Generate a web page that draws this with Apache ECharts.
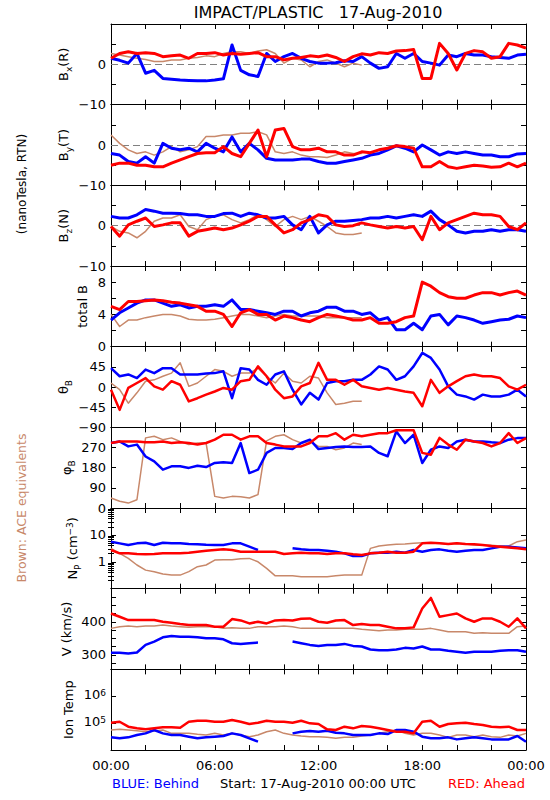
<!DOCTYPE html>
<html>
<head>
<meta charset="utf-8">
<script src="https://cdn.jsdelivr.net/npm/echarts@6.0.0/dist/echarts.min.js"></script>
<style>
html,body{margin:0;padding:0;background:#ffffff;}
#chart{width:550px;height:800px;}
</style>
</head>
<body>
<div id="chart"></div>
<script>
// ================= DATA (30-min samples) =================
const hours = [0,0.5,1,1.5,2,2.5,3,3.5,4,4.5,5,5.5,6,6.5,7,7.5,8,8.5,9,9.5,10,10.5,11,11.5,12,12.5,13,13.5,14,14.5,15,15.5,16,16.5,17,17.5,18,18.5,19,19.5,20,20.5,21,21.5,22,22.5,23,23.5,24];
const timeTickValues = [0,6,12,18,24];
const timeTickLabels = ['00:00','06:00','12:00','18:00','00:00'];

// Bx (R), nT
const bxBehind = [1.5,1,0.3,2.7,-2.2,-1.5,-3.5,-3.7,-3.9,-4,-4.1,-4.1,-3.9,-3.6,4.8,-1.5,-2.6,-3,2.7,0.7,1.9,2.7,1.5,0.7,0.3,0.3,0.4,0.9,0.7,1.9,0.3,-1,-0.6,2.7,1.5,2.7,0.7,0.3,-0.2,2.3,1.9,2.7,2.3,2.3,1.9,1.7,1.5,2.3,2.5];
const bxAhead  = [1.5,2.7,3.1,2.7,2.9,2.7,1.9,2.1,2.3,1.5,2.7,2.7,2.9,2.3,2.7,2.5,2.7,2.9,1.9,1.9,1.1,1.5,1.7,2.1,1.9,2.3,1.7,0.7,1.9,2.6,2.3,2.9,2.7,3.3,3.4,3.7,-3.5,-3.5,5.2,2.7,-1.4,2.7,3.4,3.1,1.5,1.9,5.2,4.8,4];
const bxACE    = [2.7,2.3,1.9,1.5,1.2,0.7,0.7,1.1,1.1,1.5,1.7,2.1,1.9,2.7,3.1,3.1,2.7,3.3,3.6,2.7,0.3,1.5,1.1,-0.6,0.7,1.1,0.3,-0.6,0.3,-0.2,null,null,null,null,null,null,null,null,null,null,null,null,null,null,null,null,null,null,null];
// By (T), nT
const byBehind = [-2.1,-2.5,-4.1,-4.5,-2.9,-4.5,0.4,-0.8,-1.2,-0.8,-1.7,0.4,-0.8,-1.7,2,-1.7,0.4,-1.2,-3.3,-3.7,-3.7,-3.7,-3.5,-3.5,-4.1,-4.5,-4.5,-4.1,-3.7,-3.3,-2.5,-2.1,-1.2,-0.2,-0.8,-1.7,0,-1.2,-2.5,-1.7,-2.1,-1.7,-2.1,-2.5,-2.5,-2.9,-2.9,-2.2,-2.1];
const byAhead  = [-5,-4.5,-4.5,-5,-5,-5.4,-5.4,-4.5,-3.7,-2.9,-2.1,-1.9,-1.9,-0.4,-2.1,-2.9,0.4,3.7,-2.9,3.7,4.1,-0.4,-1.2,-1.2,-0.8,-1.7,-1.7,-2.5,-2.5,-1.7,-1.9,-1.2,-0.8,-0.2,-0.4,-0.8,-5.4,-5.4,-4.1,-5.4,-5.8,-5.4,-5,-5.2,-5.5,-5.4,-4.5,-5.4,-4.5];
const byACE    = [2.5,0.4,-1.2,-2.1,-1.7,-2.5,-1.7,-0.4,-1.7,-1.2,-0.4,2.1,2.1,2.5,2.5,2.9,2.9,3.3,2.5,-1.7,-2.1,-1.7,-2.5,-2.9,-2.9,-3.1,-2.5,-1.7,-2.1,-2.1,null,null,null,null,null,null,null,null,null,null,null,null,null,null,null,null,null,null,null];
// Bz (N), nT
const bzBehind = [2.3,1.9,1.9,2.7,4,3.6,3.1,3.1,3,2.7,2.7,2.3,2.3,3,3.1,2.3,3.1,2.7,1.9,1.9,2.3,0.2,-1,2.3,-1.8,0.2,1.1,1.1,1.3,1.5,1.9,1.9,2.3,1.9,2.3,2.7,2.3,3.6,1.5,0.2,-1.4,-1.8,-1.4,-1.4,-1,-1.4,-1,-1,-1.4];
const bzAhead  = [-0.2,-2.6,0.2,1.1,1.9,-0.2,0.2,0.7,0.7,-2.6,-1.4,-1,-0.6,-1,-0.6,0.2,1.1,2.3,2.3,0.2,-1.8,-1,0.7,1.5,2.7,2.3,0.2,-0.2,0,0.7,0.2,-0.2,-0.6,-0.2,-0.6,-0.2,-3.5,2.3,-1,0.7,1.5,2.3,3.1,2.7,2.7,2.3,-0.2,-1,0.7];
const bzACE    = [-0.2,-1.4,-1.8,-3,-1.4,1.1,1.9,1.9,2.7,-0.2,-1,1.5,2.3,2.7,1.5,0.7,1.5,2.7,1.5,-0.2,1.5,2.3,1.5,2.3,1.1,-0.2,-1.8,-2.2,-2.2,-1.8,null,null,null,null,null,null,null,null,null,null,null,null,null,null,null,null,null,null,null];
// total B, nT
const btBehind = [3.3,4.2,4.8,5.4,5.8,5.8,5.4,5,5.2,4.8,5,5,5.2,5,5.8,4.6,4.6,4.4,4.2,4,4.4,4.4,3.8,4.2,4.4,4.9,4.9,4.4,4.4,4,4.2,3.3,3.6,2.1,2.1,2.9,2.1,3.8,4,2.7,3.8,3.6,3.3,2.9,3.1,3.3,3.4,3.8,3.6];
const btAhead  = [5,4.6,5.6,5.6,5.7,5.8,5.7,5.5,5.4,5.2,5,4.4,4.4,4,2.5,4.2,4.6,4,4,3.3,3.8,3.6,3.3,3.1,3.6,4,3.8,3.6,3.3,3.3,3.6,2.9,2.9,3.1,3.6,3.8,8,7.5,6.7,6.2,6,6,6.4,6.7,6.7,6.4,6.7,6.9,6.4];
const btACE    = [4,2.5,3.3,3.3,3.6,3.8,4,4,3.8,3.4,3.3,3.3,3.4,3.6,3.8,4,4,3.8,3.6,3.8,4,3.8,3.8,3.8,3.8,3.6,3.6,3.6,3.6,3.6,null,null,null,null,null,null,null,null,null,null,null,null,null,null,null,null,null,null,null];
// theta B, deg
const thBehind = [42,24,28,20,39,31,42,42,28,28,28,30,31,35,-25,42,39,16,5,28,35,-6,-39,-13,-28,9,13,13,16,16,28,46,39,16,24,46,76,65,39,1.5,-17,-21,-28,-17,-21,-21,-17,-6,-21];
const thAhead  = [-6,-51,-2,9,20,1.5,-6,13,5,-32,-25,-17,-10,-2,-6,13,16,46,24,-6,-25,-21,1.5,9,54,16,16,5,16,1.5,-2,-6,-2,-6,-10,-13,-43,16,-13,1.5,13,24,28,24,24,20,1.5,-6,5];
const thACE    = [9,-6,-36,-13,13,16,24,31,54,1.5,9,24,39,35,24,31,31,42,24,9,31,13,9,24,20,-13,-39,-36,-32,-32,null,null,null,null,null,null,null,null,null,null,null,null,null,null,null,null,null,null,null];
// phi B, deg
const phBehind = [290,297,275,283,230,208,171,186,186,179,189,183,201,204,201,290,156,171,246,268,268,263,290,305,263,268,272,275,272,272,275,246,231,342,290,327,201,260,275,268,297,305,297,297,293,290,305,312,312];
const phAhead  = [290,297,297,297,293,293,297,290,293,290,283,290,305,327,327,305,320,320,290,283,275,275,275,290,320,320,334,305,327,320,327,334,334,347,347,347,246,238,313,283,260,305,297,290,275,290,334,290,312];
const phACE    = [45,30,22,37,313,320,305,313,297,283,290,290,52,45,52,50,45,60,300,320,327,305,290,297,275,275,260,268,290,283,null,null,null,null,null,null,null,null,null,null,null,null,null,null,null,null,null,null,null];
// Np, cm^-3
const npBehind = [5.6,4.85,4.2,4.85,5.1,4.2,5.1,4.85,4.85,4.6,4.5,4.3,4.2,4.2,4.85,4.85,3.65,2.74,null,null,null,3.16,2.9,2.74,2.74,2.59,2.38,2.06,1.64,1.64,2.06,2.18,2.18,2.38,2.18,2.74,2.38,2.74,2.9,2.59,2.38,2.59,2.74,2.74,3.16,3.65,3.65,3.4,3.16];
const npAhead  = [2.74,2.06,2.06,1.95,1.9,1.95,2.06,2.06,2.06,2.18,2.38,2.59,2.74,2.9,2.74,2.38,2.38,2.38,2.38,2.38,1.95,2.06,2.18,2.06,2.06,1.95,2.06,2.06,1.9,1.79,2.06,2.18,2.38,2.18,2.18,2.38,4.85,5.1,4.85,4.6,4.85,4.6,4.5,4.2,3.86,3.65,3.4,3.16,2.9];
const npACE    = [3.16,2.06,1.34,0.76,0.49,0.43,0.35,0.32,0.32,0.43,0.66,0.76,1.16,1.2,1.2,1.3,1.34,1.0,0.57,0.3,0.3,0.3,0.28,0.28,0.28,0.28,0.3,0.32,0.32,0.32,3.16,3.86,4.2,4.5,4.6,4.85,5.1,5.1,4.85,4.6,4.85,4.6,4.2,4.1,4.1,3.86,3.86,5.6,6.5];
// V, km/s
const vBehind  = [306,306,304,307,330,340,353,357,355,355,353,350,350,347,335,333,335,337,null,null,null,340,335,330,327,330,330,333,327,325,316,314,314,316,321,319,325,316,316,312,309,306,309,309,309,312,314,314,309];
const vAhead   = [425,415,405,405,405,405,400,397,393,390,390,390,385,385,408,404,395,400,395,404,405,404,409,410,400,397,404,405,390,393,390,390,385,380,380,383,440,472,415,420,425,410,400,410,410,400,385,410,380];
const vACE     = [380,385,387,385,387,387,390,387,385,383,385,385,385,380,382,380,380,385,385,385,387,385,380,380,380,380,380,380,380,377,375,373,375,375,377,377,377,380,375,370,370,370,365,367,365,365,365,385,387];
// Ion temperature, K
const tBehind  = [29600,27200,29600,36100,41700,55500,41700,36100,36100,31300,27200,29600,31300,33200,41700,36100,27200,20400,null,null,null,41700,48100,50900,48100,52400,44200,41700,36100,36100,36100,41700,39400,55500,55500,48100,31300,27200,27200,29600,24900,27200,29600,27200,24900,24900,24900,33200,20400];
const tAhead   = [104000,113000,73800,64000,58700,64000,69700,69700,67700,113000,123000,123000,113000,113000,131000,113000,92700,104000,123000,113000,113000,104000,123000,98200,92700,58700,55500,73800,64000,78200,73800,64000,55500,48100,48100,41700,113000,123000,73800,92700,98200,104000,92700,85100,73800,69700,73800,55500,55500];
const tACE     = [55500,58700,55500,52400,48100,50900,55500,41700,41700,41700,38300,36100,41700,36100,41700,36100,31300,36100,48100,55500,41700,36100,33200,31300,31300,29600,27200,29600,29600,33200,36100,41700,48100,55500,41700,36100,41700,41700,36100,29600,36100,36100,31300,36100,31300,29600,36100,33200,41700];

// axis ticks / labels
const bTicks = [-10,-5,0,5,10], bLabels = [-10,0];
const btTicks = [0,2,4,6,8,10], btLabels = [0,4,8];
const thTicks = [-90,-45,0,45,90], thLabels = [-90,-45,0,45];
const phTicks = [0,90,180,270,360], phLabels = [0,90,180,270];
const npTicks = [0.1,1,10,100], npMinorTicks = [0.2,0.3,0.4,0.5,0.6,0.7,0.8,0.9,2,3,4,5,6,7,8,9,20,30,40,50,60,70,80,90], npLabels = [1,10];
const vTicks = [275,300,325,350,375,400,425,450,475], vLabels = [300,400];
const tTicks = [1e4,1e5,1e6,1e7], tLabels = [1e5,1e6];

// ================= STYLE / LAYOUT =================
const FONT = 'DejaVu Sans';
const BLUE = '#0000ff', RED = '#ff0000', BROWN = '#c8886a';
const PLOT_L = 111, PLOT_W = 415, PLOT_T = 24, PH = 80.67;

const fmtNum = v => (v < 0 ? '\u2212' + Math.abs(v) : String(v));
const fmtPow = v => '{b|10}{p|' + Math.round(Math.log10(v)) + '}';
const powRich = {
  b: {fontSize: 13, fontFamily: FONT, color: '#000', verticalAlign: 'top', lineHeight: 16},
  p: {fontSize: 9, fontFamily: FONT, color: '#000', verticalAlign: 'top', lineHeight: 9}
};

const panels = [
  {title: '{m|B}{s|x}{m|(R)}', tx: 64, type: 'value', min: -10, max: 10, ticks: bTicks, labels: bLabels, zero: true, lw: [1.5, 3, 3], data: [bxACE, bxBehind, bxAhead]},
  {title: '{m|B}{s|y}{m|(T)}', tx: 64, type: 'value', min: -10, max: 10, ticks: bTicks, labels: bLabels, zero: true, lw: [1.5, 3, 3], data: [byACE, byBehind, byAhead]},
  {title: '{m|B}{s|z}{m|(N)}', tx: 64, type: 'value', min: -10, max: 10, ticks: bTicks, labels: bLabels, zero: true, lw: [1.5, 3, 3], data: [bzACE, bzBehind, bzAhead]},
  {title: '{m|total B}', tx: 83, type: 'value', min: 0, max: 10, ticks: btTicks, labels: btLabels, lw: [1.5, 3, 3], data: [btACE, btBehind, btAhead]},
  {title: '{m|\u03b8}{s|B}', tx: 64, type: 'value', min: -90, max: 90, ticks: thTicks, labels: thLabels, lw: [1.5, 2.5, 2.5], data: [thACE, thBehind, thAhead]},
  {title: '{m|\u03c6}{s|B}', tx: 67, type: 'value', min: 0, max: 360, ticks: phTicks, labels: phLabels, lw: [1.5, 2.5, 2.5], data: [phACE, phBehind, phAhead]},
  {title: '{m|N}{s|P}{m| (cm}{p|\u22123}{m|)}', tx: 73, type: 'log', min: 0.1, max: 100, ticks: npTicks, minor: npMinorTicks, labels: npLabels, lw: [1.5, 2.5, 2.5], data: [npACE, npBehind, npAhead]},
  {title: '{m|V (km/s)}', tx: 67, type: 'value', min: 256, max: 500, ticks: vTicks, labels: vLabels, lw: [1.5, 2.5, 2.5], data: [vACE, vBehind, vAhead]},
  {title: '{m|Ion Temp}', tx: 69, type: 'log', min: 1e4, max: 1e7, ticks: tTicks, labels: tLabels, pow: true, lw: [1.5, 2.5, 2.5], data: [tACE, tBehind, tAhead]}
];
const seriesColors = [BROWN, BLUE, RED];
const seriesNames = ['ACE', 'Behind', 'Ahead'];

const grids = [], xAxes = [], yAxes = [], series = [], graphics = [];
const axLine = {show: true, onZero: false, lineStyle: {color: '#000', width: 1}};

panels.forEach((p, i) => {
  const top = PLOT_T + i * PH;
  grids.push({left: PLOT_L, width: PLOT_W, top: top, height: PH, containLabel: false, outerBoundsMode: 'none'});
  const last = i === panels.length - 1;
  ['bottom', 'top'].forEach(pos => {
    xAxes.push({
      gridIndex: i, type: 'value', position: pos, min: 0, max: 24, interval: 2,
      axisLine: axLine,
      axisTick: {show: true, inside: true, length: 5, lineStyle: {color: '#000'}},
      axisLabel: {show: last && pos === 'bottom', customValues: timeTickValues, margin: 9,
        formatter: v => timeTickLabels[timeTickValues.indexOf(v)] || '',
        fontSize: 13, fontFamily: FONT, color: '#000'},
      splitLine: {show: false}
    });
  });
  const xIdx = xAxes.length - 2;
  const yIdx = yAxes.length;
  ['left', 'right'].forEach(pos => {
    yAxes.push({
      gridIndex: i, type: p.type, position: pos, min: p.min, max: p.max,
      axisLine: axLine,
      axisTick: {show: true, inside: true, length: 5, customValues: p.ticks, lineStyle: {color: '#000'}},
      axisLabel: {show: pos === 'left', customValues: p.labels, margin: 5,
        formatter: p.pow ? fmtPow : fmtNum, rich: p.pow ? powRich : undefined,
        fontSize: 13, fontFamily: FONT, color: '#000'},
      splitLine: {show: false}, minorTick: {show: false}
    });
  });
  if (p.minor) {
    ['left', 'right'].forEach(pos => {
      yAxes.push({
        gridIndex: i, type: p.type, position: pos, min: p.min, max: p.max,
        axisLine: {show: false},
        axisTick: {show: true, inside: true, length: 3, customValues: p.minor, lineStyle: {color: '#000'}},
        axisLabel: {show: false}, splitLine: {show: false}
      });
    });
  }
  p.data.forEach((arr, k) => {
    const s = {
      name: seriesNames[k], type: 'line', xAxisIndex: xIdx, yAxisIndex: yIdx,
      data: arr.map((v, j) => [hours[j], v]),
      showSymbol: false, symbol: 'none', connectNulls: false, silent: true,
      lineStyle: {color: seriesColors[k], width: p.lw[k], join: 'round'},
      itemStyle: {color: seriesColors[k]}, z: 2 + k
    };
    if (p.zero && k === 0) {
      s.markLine = {silent: true, symbol: ['none', 'none'], label: {show: false},
        lineStyle: {color: '#808080', type: [7, 4], width: 1}, data: [{yAxis: 0}], z: 1};
    }
    series.push(s);
  });
  graphics.push({
    type: 'text', x: p.tx, y: top + PH / 2, rotation: Math.PI / 2,
    style: {
      text: p.title, align: 'center', verticalAlign: 'middle', textAlign: 'center', textVerticalAlign: 'middle',
      rich: {
        m: {fontSize: 13, fontFamily: FONT, fill: '#000', color: '#000', verticalAlign: 'top', lineHeight: 15},
        s: {fontSize: 9, fontFamily: FONT, fill: '#000', color: '#000', verticalAlign: 'top', lineHeight: 10, padding: [8, 0, 0, 0]},
        p: {fontSize: 9, fontFamily: FONT, fill: '#000', color: '#000', verticalAlign: 'top', lineHeight: 9}
      }
    }
  });
});

const txt = (text, x, y, opts) => Object.assign({
  type: 'text', x: x, y: y,
  style: Object.assign({text: text, fontSize: 13, fontFamily: FONT, fill: '#000', align: 'center', verticalAlign: 'middle', textAlign: 'center', textVerticalAlign: 'middle'}, opts || {})
});
graphics.push(txt('IMPACT/PLASTIC   17-Aug-2010', 318, 12, {fontSize: 16}));
graphics.push(Object.assign(txt('(nanoTesla, RTN)', 22, 184, {fontSize: 12}), {rotation: Math.PI / 2}));
graphics.push(Object.assign(txt('Brown: ACE equivalents', 21, 508, {fontSize: 12.5, fill: BROWN}), {rotation: Math.PI / 2}));
graphics.push(txt('BLUE: Behind', 112, 783, {fill: BLUE, align: 'left', textAlign: 'left'}));
graphics.push(txt('Start: 17-Aug-2010 00:00 UTC', 318, 783));
graphics.push(txt('RED: Ahead', 525, 783, {fill: RED, align: 'right', textAlign: 'right'}));

const chart = echarts.init(document.getElementById('chart'), null, {renderer: 'svg', width: 550, height: 800});
chart.setOption({
  animation: false,
  backgroundColor: '#ffffff',
  grid: grids, xAxis: xAxes, yAxis: yAxes, series: series, graphic: graphics
});
</script>
</body>
</html>
